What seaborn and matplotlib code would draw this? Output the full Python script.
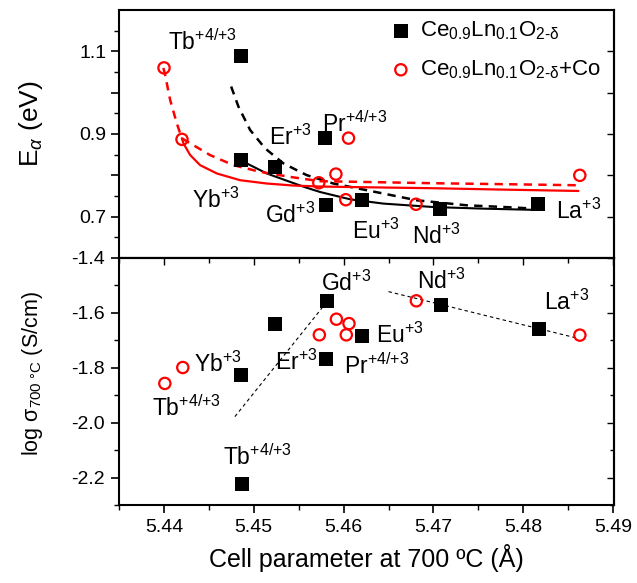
import numpy as np
import pandas as pd
import matplotlib
matplotlib.use("Agg")
import matplotlib.pyplot as plt
from matplotlib.ticker import FixedLocator, FixedFormatter
import seaborn as sns

# ---- data -------------------------------------------------------------
dopants = ["Tb", "Yb", "Er", "Gd", "Pr", "Eu", "Nd", "La"]

# Ce0.9Ln0.1O2-d
cell_pure = [5.4487, 5.4486, 5.4524, 5.4581, 5.4580, 5.4621, 5.4708, 5.4817]
ea_pure = [1.088, 0.838, 0.820, 0.728, 0.890, 0.740, 0.719, 0.730]
logsig_pure = [-2.223, -1.827, -1.641, -1.556, -1.768, -1.684, -1.571, -1.659]

# Ce0.9Ln0.1O2-d + Co
cell_co = [5.4401, 5.4421, 5.4573, 5.4592, 5.4606, 5.4603, 5.4681, 5.4863]
ea_co = [1.060, 0.887, 0.782, 0.803, 0.890, 0.741, 0.730, 0.800]
logsig_co = [-1.857, -1.799, -1.680, -1.623, -1.639, -1.680, -1.556, -1.681]

# trend curves for the activation energy
pure_dash_x = [5.44756, 5.44837, 5.44967, 5.45133, 5.45337, 5.45522, 5.45597,
               5.45892, 5.46448, 5.46819, 5.47374, 5.47930, 5.48114]
pure_dash_y = [1.0149, 0.9663, 0.9097, 0.8653, 0.8288, 0.8084, 0.8004,
               0.7802, 0.7559, 0.7396, 0.7275, 0.7219, 0.7194]
pure_solid_x = [5.44863, 5.44930, 5.45152, 5.45411, 5.45578, 5.45744, 5.46078,
                5.46448, 5.47003, 5.47559, 5.48114]
pure_solid_y = [0.8385, 0.8288, 0.8045, 0.7841, 0.7712, 0.7597, 0.7420,
                0.7316, 0.7233, 0.7194, 0.7165]
co_dash_x = [5.44003, 5.44022, 5.44078, 5.44152, 5.44208, 5.44522, 5.44781,
             5.45078, 5.45411, 5.45744, 5.46078, 5.47003, 5.47819, 5.48600]
co_dash_y = [1.0597, 1.0434, 0.9826, 0.9260, 0.8896, 0.8490, 0.8247,
             0.8084, 0.7962, 0.7858, 0.7846, 0.7809, 0.7785, 0.7760]
co_solid_x = [5.44208, 5.44226, 5.44300, 5.44411, 5.44597, 5.44856, 5.45152,
              5.45448, 5.45744, 5.46078, 5.47003, 5.47744, 5.48614]
co_solid_y = [0.8896, 0.8774, 0.8493, 0.8247, 0.8045, 0.7882, 0.7802,
              0.7753, 0.7729, 0.7717, 0.7688, 0.7656, 0.7622]

# guide lines for the conductivity
guide1_x = [5.4479, 5.4576]
guide1_y = [-1.978, -1.582]
guide2_x = [5.4650, 5.4860]
guide2_y = [-1.5225, -1.692]

# ion labels: (text, x, y)
TB = r"Tb$^{{+}4/{+}3}$"
PR = r"Pr$^{{+}4/{+}3}$"
ea_labels = [
    (TB, 5.4406, 1.104),
    (r"Yb$^{{+}3}$", 5.4432, 0.720),
    (r"Er$^{{+}3}$", 5.4518, 0.8733),
    (r"Gd$^{{+}3}$", 5.4513, 0.6845),
    (PR, 5.4576, 0.9056),
    (r"Eu$^{{+}3}$", 5.4610, 0.6465),
    (r"Nd$^{{+}3}$", 5.4676, 0.6351),
    (r"La$^{{+}3}$", 5.4837, 0.6951),
]
sig_labels = [
    (r"Yb$^{{+}3}$", 5.4433, -1.8135),
    (TB, 5.4387, -1.977),
    (r"Er$^{{+}3}$", 5.4524, -1.808),
    (TB, 5.4466, -2.154),
    (r"Gd$^{{+}3}$", 5.4575, -1.520),
    (r"Nd$^{{+}3}$", 5.4682, -1.514),
    (r"La$^{{+}3}$", 5.4823, -1.590),
    (r"Eu$^{{+}3}$", 5.4636, -1.708),
    (PR, 5.4600, -1.823),
]

pure = pd.DataFrame({"dopant": dopants, "a": cell_pure, "Ea": ea_pure, "logsig": logsig_pure})
co = pd.DataFrame({"dopant": dopants, "a": cell_co, "Ea": ea_co, "logsig": logsig_co})

# ---- style ------------------------------------------------------------
sns.set_style("ticks")
plt.rcParams["font.family"] = ["Liberation Sans", "DejaVu Sans"]
plt.rcParams["mathtext.fontset"] = "custom"
plt.rcParams["mathtext.rm"] = "Liberation Sans"
plt.rcParams["mathtext.sf"] = "Liberation Sans"
plt.rcParams["mathtext.it"] = "Liberation Sans:italic"
plt.rcParams["mathtext.bf"] = "Liberation Sans:bold"
plt.rcParams["lines.scale_dashes"] = False
plt.rcParams["axes.linewidth"] = 1.5
for key in ("text.color", "axes.labelcolor", "axes.edgecolor",
            "xtick.color", "ytick.color"):
    plt.rcParams[key] = "black"

W, H = 637, 583
fig = plt.figure(figsize=(W / 100, H / 100), dpi=100)
left, right = 119, 614
ax1 = fig.add_axes([left / W, 1 - 258 / H, (right - left) / W, (258 - 10) / H])
ax2 = fig.add_axes([left / W, 1 - 505 / H, (right - left) / W, (505 - 258) / H])

XLIM = (5.4351, 5.4901)
ANN = 16.5
TICK = 14
SQ = 92
CIRC = 66


def style_line(ax, dashes=None):
    line = ax.lines[-1]
    if dashes is not None:
        line.set_dashes(dashes)
    return line


# ---- top: activation energy ------------------------------------------
sns.lineplot(x=pure_dash_x, y=pure_dash_y, ax=ax1, color="black", lw=1.8,
             sort=False, estimator=None)
style_line(ax1, (6, 4.5))
sns.lineplot(x=pure_solid_x, y=pure_solid_y, ax=ax1, color="black", lw=1.5,
             sort=False, estimator=None)
sns.lineplot(x=co_dash_x, y=co_dash_y, ax=ax1, color="red", lw=1.8,
             sort=False, estimator=None)
style_line(ax1, (6, 4.5))
sns.lineplot(x=co_solid_x, y=co_solid_y, ax=ax1, color="red", lw=1.6,
             sort=False, estimator=None)

sns.scatterplot(data=pure, x="a", y="Ea", ax=ax1, marker="s", s=SQ,
                color="black", edgecolor="black", linewidth=0, zorder=4,
                label=r"Ce$_{0.9}$Ln$_{0.1}$O$_{2\text{-}\mathrm{\delta}}$")
sns.scatterplot(data=co, x="a", y="Ea", ax=ax1, marker="o", s=CIRC,
                color="red", facecolor="none", edgecolor="red", linewidth=1.6,
                zorder=4,
                label=r"Ce$_{0.9}$Ln$_{0.1}$O$_{2\text{-}\mathrm{\delta}}$+Co")

for txt, x, y in ea_labels:
    ax1.text(x, y, txt, fontsize=ANN, ha="left", va="baseline")

ax1.set_xlim(*XLIM)
ax1.set_ylim(0.6, 1.2)
ax1.yaxis.set_major_locator(FixedLocator([0.7, 0.8, 0.9, 1.0, 1.1]))
ax1.yaxis.set_major_formatter(FixedFormatter(["0.7", "", "0.9", "", "1.1"]))
ax1.yaxis.set_minor_locator(FixedLocator([0.65, 0.75, 0.85, 0.95, 1.05, 1.15]))
ax1.tick_params(axis="y", which="major", direction="out", length=6, width=1.2,
                labelsize=TICK, pad=3)
ax1.tick_params(axis="y", which="minor", direction="out", length=3.5, width=1.0)
ax1.tick_params(axis="x", which="both", bottom=False, labelbottom=False)
ax1.set_xlabel("")
ax1.set_ylabel(r"E$_{\alpha}$ (eV)", fontsize=19)
ax1.yaxis.set_label_coords(-0.15, 0.54)

r1 = ax1.secondary_yaxis("right")
r1.set_yticks([0.7, 0.8, 0.9, 1.0, 1.1])
r1.tick_params(direction="in", length=5, width=1.0, labelright=False)

leg = ax1.legend(loc="upper right", bbox_to_anchor=(1.005, 1.025), frameon=False,
                 fontsize=16, handletextpad=0.35, labelspacing=0.75,
                 borderaxespad=0.3, handlelength=1.0)

# ---- bottom: conductivity ---------------------------------------------
sns.lineplot(x=guide1_x, y=guide1_y, ax=ax2, color="black", lw=0.8,
             sort=False, estimator=None)
style_line(ax2, (2.5, 2.2))
sns.lineplot(x=guide2_x, y=guide2_y, ax=ax2, color="black", lw=0.8,
             sort=False, estimator=None)
style_line(ax2, (2.5, 2.2))

sns.scatterplot(data=pure, x="a", y="logsig", ax=ax2, marker="s", s=SQ,
                color="black", edgecolor="black", linewidth=0, zorder=4,
                legend=False)
sns.scatterplot(data=co, x="a", y="logsig", ax=ax2, marker="o", s=CIRC,
                color="red", facecolor="none", edgecolor="red", linewidth=1.6,
                zorder=4, legend=False)

for txt, x, y in sig_labels:
    ax2.text(x, y, txt, fontsize=ANN, ha="left", va="baseline")

ax2.set_xlim(*XLIM)
ax2.set_ylim(-2.3, -1.4)
major_x = [5.44, 5.45, 5.46, 5.47, 5.48, 5.49]
minor_x = [5.435, 5.445, 5.455, 5.465, 5.475, 5.485]
ax2.set_xticks(major_x)
ax2.set_xticks(minor_x, minor=True)
ax2.set_yticks([-2.2, -2.0, -1.8, -1.6, -1.4])
ax2.set_yticks([-2.3, -2.1, -1.9, -1.7, -1.5], minor=True)
ax2.tick_params(which="major", direction="out", length=6, width=1.2,
                labelsize=TICK, pad=4)
ax2.tick_params(which="minor", direction="out", length=3.5, width=1.0)
ax2.set_xticklabels(["5.44", "5.45", "5.46", "5.47", "5.48", "5.49"])
ax2.set_yticklabels(["-2.2", "-2.0", "-1.8", "-1.6", "-1.4"])
ax2.set_xlabel("Cell parameter at 700 ºC (Å)", fontsize=18, labelpad=6)
ax2.set_ylabel(r"log σ$_{\mathrm{700\ °C}}$ (S/cm)", fontsize=15.5)
ax2.yaxis.set_label_coords(-0.15, 0.53)

t2 = ax2.secondary_xaxis("top")
t2.set_xticks(major_x)
t2.set_xticks(minor_x, minor=True)
t2.tick_params(which="both", direction="in", labeltop=False)
t2.tick_params(which="major", length=5, width=1.0)
t2.tick_params(which="minor", length=3.5, width=1.0)

r2 = ax2.secondary_yaxis("right")
r2.set_yticks([-2.2, -2.0, -1.8, -1.6, -1.4])
r2.set_yticks([-2.3, -2.1, -1.9, -1.7, -1.5], minor=True)
r2.tick_params(which="both", direction="in", labelright=False)
r2.tick_params(which="major", length=5, width=1.0)
r2.tick_params(which="minor", length=3, width=1.0)

for ax in (ax1, ax2):
    for sp in ax.spines.values():
        sp.set_linewidth(1.5)
        sp.set_visible(True)

fig.savefig("out.png", dpi=100)
